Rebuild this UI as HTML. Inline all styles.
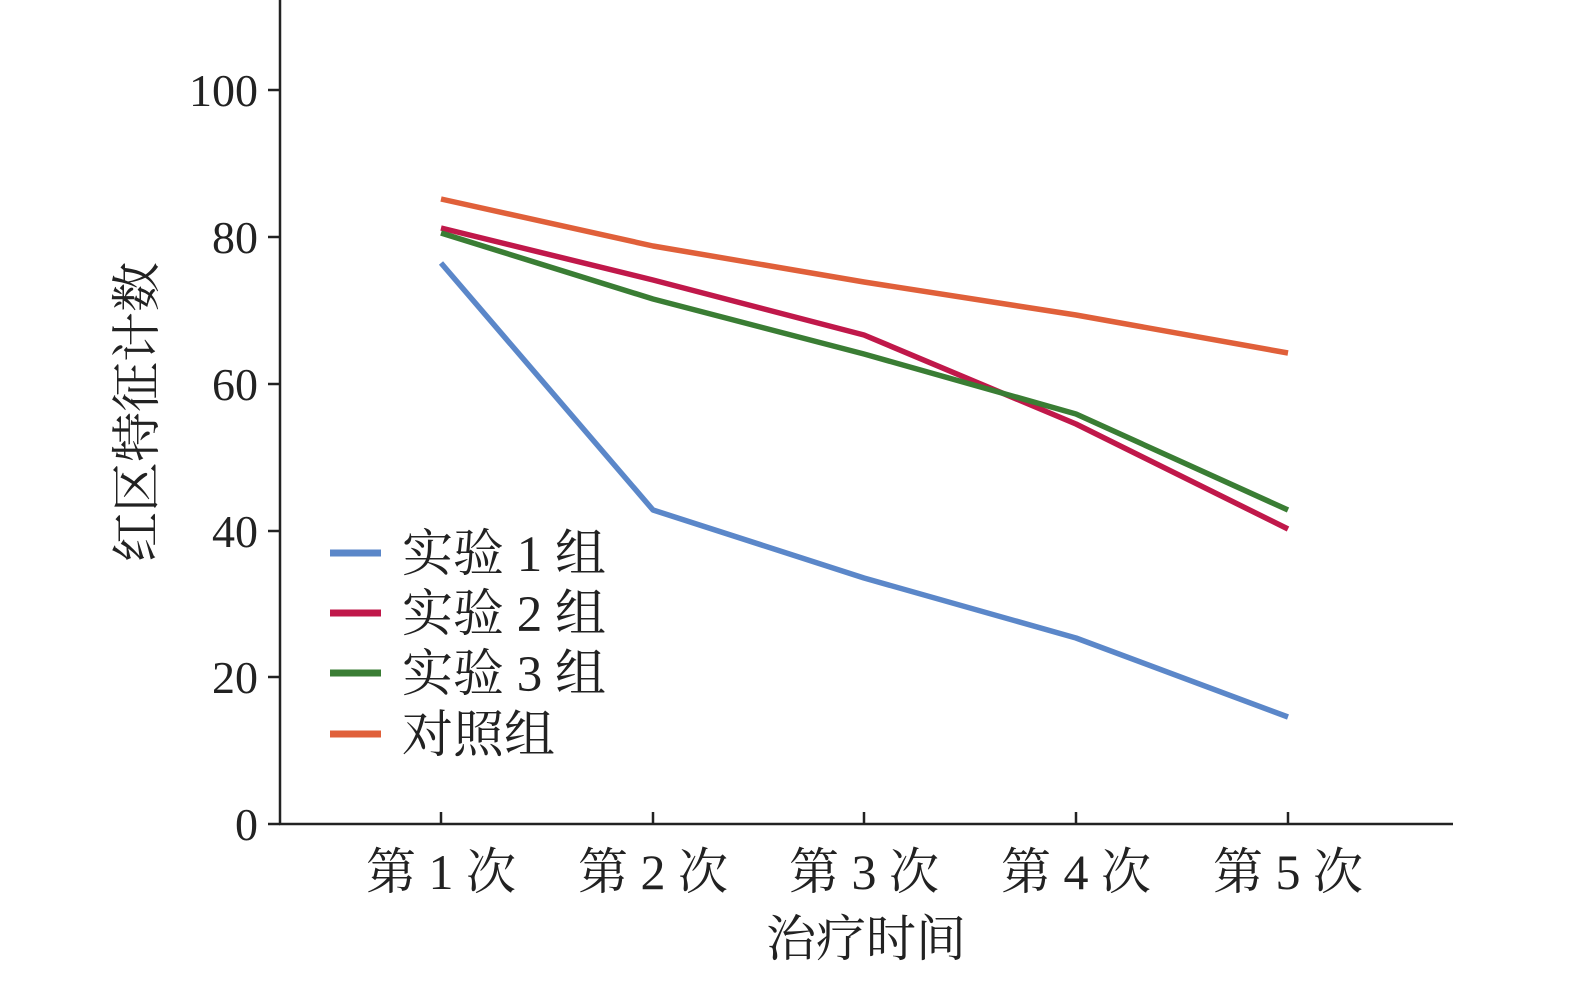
<!DOCTYPE html>
<html><head><meta charset="utf-8"><style>
body{margin:0;background:#fff}
svg text{font-family:"Liberation Serif","Noto Serif CJK SC",serif;fill:#222}
</style></head><body>
<svg width="1575" height="977" xmlns="http://www.w3.org/2000/svg">
<g stroke="#222" stroke-width="2.5" fill="none">
<line x1="280" y1="0" x2="280" y2="825"/>
<line x1="279" y1="824" x2="1453" y2="824"/>
<line x1="268" y1="824" x2="280" y2="824"/>
<line x1="268" y1="677" x2="280" y2="677"/>
<line x1="268" y1="531" x2="280" y2="531"/>
<line x1="268" y1="384" x2="280" y2="384"/>
<line x1="268" y1="237" x2="280" y2="237"/>
<line x1="268" y1="90" x2="280" y2="90"/>
<line x1="441" y1="812" x2="441" y2="824"/>
<line x1="653" y1="812" x2="653" y2="824"/>
<line x1="864" y1="812" x2="864" y2="824"/>
<line x1="1076" y1="812" x2="1076" y2="824"/>
<line x1="1288" y1="812" x2="1288" y2="824"/>
</g>
<g font-size="46" text-anchor="end">
<text x="258" y="840">0</text>
<text x="258" y="693">20</text>
<text x="258" y="547">40</text>
<text x="258" y="400">60</text>
<text x="258" y="253">80</text>
<text x="258" y="106">100</text>
</g>
<g font-size="50" text-anchor="middle">
<text x="441" y="889">第 1 次</text>
<text x="653" y="889">第 2 次</text>
<text x="864" y="889">第 3 次</text>
<text x="1076" y="889">第 4 次</text>
<text x="1288" y="889">第 5 次</text>
<text x="866" y="956">治疗时间</text>
<text transform="translate(154,412) rotate(-90)">红区特征计数</text>
</g>
<g fill="none" stroke-width="5.5" stroke-linejoin="round">
<polyline stroke="#5b87c9" points="441,263 653,510 864,578 1076,638 1288,717"/>
<polyline stroke="#c0184a" points="441,228 653,280 864,335 1076,424 1288,529"/>
<polyline stroke="#3a7d34" points="441,233 653,299 864,354 1076,414 1288,510"/>
<polyline stroke="#e0603a" points="441,199 653,246 864,282 1076,315 1288,353"/>
</g>
<g stroke-width="7">
<line x1="330" y1="553" x2="381" y2="553" stroke="#5b87c9"/>
<line x1="330" y1="613" x2="381" y2="613" stroke="#c0184a"/>
<line x1="330" y1="673" x2="381" y2="673" stroke="#3a7d34"/>
<line x1="330" y1="734" x2="381" y2="734" stroke="#e0603a"/>
</g>
<g font-size="51">
<text x="402" y="571">实验 1 组</text>
<text x="402" y="631">实验 2 组</text>
<text x="402" y="691">实验 3 组</text>
<text x="402" y="752">对照组</text>
</g>
</svg>
</body></html>
